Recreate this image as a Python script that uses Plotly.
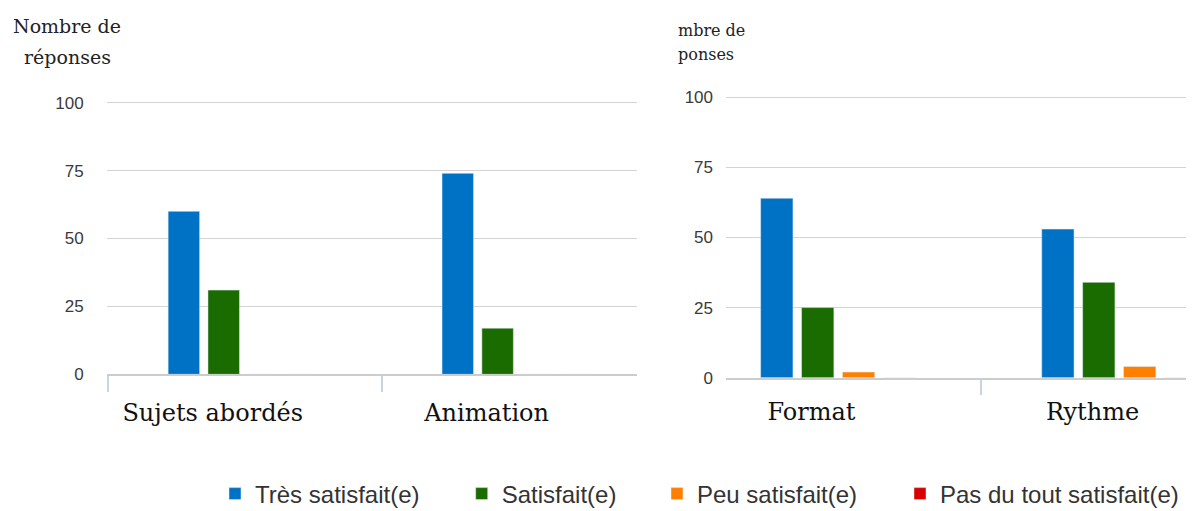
import plotly.graph_objects as go

# ---- data ----
series_names = ["Très satisfait(e)", "Satisfait(e)", "Peu satisfait(e)", "Pas du tout satisfait(e)"]
series_colors = ["#0072C6", "#1A6B00", "#FF8000", "#D90000"]

left_categories = ["Sujets abordés", "Animation"]
left_tres = [60, 74]
left_sat = [31, 17]
left_peu = [0, 0]
left_pas = [0, 0]

right_categories = ["Format", "Rythme"]
right_tres = [64, 53]
right_sat = [25, 34]
right_peu = [2, 4]
right_pas = [0, 0]

y_ticks = [0, 25, 50, 75, 100]
y_title_lines = ["Nombre de", "réponses"]
y_title_right_lines = ["mbre de", "ponses"]

# page offset (default body margin) compensation
OFF = 8
SW, SH = 1194, 511          # screen size
W, H = SW - OFF, SH - OFF   # figure size

def px(xs):
    return (xs - OFF) / W

def py(ys):
    return (SH - ys) / H

SERIF = "DejaVu Serif"
SANS = "Liberation Sans, Arial, sans-serif"

fig = go.Figure()

left_series = [left_tres, left_sat, left_peu, left_pas]
right_series = [right_tres, right_sat, right_peu, right_pas]
legend_ids = ["legend", "legend2", "legend3", "legend4"]

lx = list(range(len(left_categories)))
rx = list(range(len(right_categories)))

for i, (name, col) in enumerate(zip(series_names, series_colors)):
    fig.add_trace(go.Bar(x=lx, y=left_series[i], name=name, marker_color=col,
                         xaxis="x", yaxis="y", legend=legend_ids[i], showlegend=True,
                         hovertemplate="%{y}<extra>" + name + "</extra>"))
for i, (name, col) in enumerate(zip(series_names, series_colors)):
    fig.add_trace(go.Bar(x=rx, y=right_series[i], name=name, marker_color=col,
                         xaxis="x2", yaxis="y2", showlegend=False,
                         hovertemplate="%{y}<extra>" + name + "</extra>"))

grid = "#d4d4d4"
tickcol = "#c6d4e6"

def yaxis(domain, standoff, anchor):
    return dict(domain=domain, range=[0, 102], tickvals=y_ticks, showgrid=True, anchor=anchor,
                gridcolor=grid, gridwidth=1.3, zeroline=False, showline=False, automargin=False,
                ticks="", tickfont=dict(family=SANS, size=17, color="#3a3a3a"),
                ticklabelstandoff=standoff, fixedrange=True)

label_shift_l = 0.113
label_shift_r = 0.095

fig.update_layout(
    width=W, height=H,
    margin=dict(l=0, r=0, t=0, b=0, autoexpand=False),
    paper_bgcolor="white", plot_bgcolor="white",
    barmode="group", bargap=0.418, bargroupgap=0.21,
    xaxis=dict(domain=[px(106.7), px(636.7)], range=[-0.5, 1.435], anchor="y",
               tickvals=[v - label_shift_l for v in lx], ticktext=left_categories,
               ticks="", showgrid=False, zeroline=False, automargin=False,
               showline=True, linecolor="#cccccc", linewidth=1.5,
               tickfont=dict(family=SERIF, size=24, color="#111111"),
               ticklabelstandoff=16,
               minor=dict(tickmode="array", tickvals=[-0.497, 0.505], ticks="outside",
                          ticklen=16, tickwidth=1.5, tickcolor=tickcol, showgrid=False),
               fixedrange=True),
    yaxis=yaxis([py(374.3), py(97.27)], 22, "x"),
    xaxis2=dict(domain=[px(726), 1.0], range=[-0.399, 1.266], anchor="y2",
                tickvals=[v - label_shift_r for v in rx], ticktext=right_categories,
                ticks="", showgrid=False, zeroline=False, automargin=False,
                showline=True, linecolor="#cccccc", linewidth=1.5,
                tickfont=dict(family=SERIF, size=24, color="#111111"),
                ticklabelstandoff=12,
                minor=dict(tickmode="array", tickvals=[0.508], ticks="outside",
                           ticklen=16, tickwidth=1.5, tickcolor=tickcol, showgrid=False),
                fixedrange=True),
    yaxis2=yaxis([py(377.7), py(91.69)], 12, "x2"),
    showlegend=True,
)

legend_x_px = [215, 461.7, 657, 900]
for lid, xp in zip(legend_ids, legend_x_px):
    fig.update_layout({lid: dict(x=px(xp), xanchor="left", y=py(494), yanchor="middle",
                                 orientation="h", bgcolor="rgba(0,0,0,0)",
                                 font=dict(family=SANS, size=24, color="#333333"))})

# y axis titles
title_font_l = dict(family=SERIF, size=19, color="#222222")
title_font_r = dict(family=SERIF, size=16, color="#222222")
fig.add_annotation(text=y_title_lines[0], x=px(67), y=py(26), xref="paper", yref="paper",
                   xanchor="center", yanchor="middle", showarrow=False, font=title_font_l)
fig.add_annotation(text=y_title_lines[1], x=px(67), y=py(57), xref="paper", yref="paper",
                   xanchor="center", yanchor="middle", showarrow=False, font=title_font_l)
fig.add_annotation(text=y_title_right_lines[0], x=px(676), y=py(30), xref="paper", yref="paper",
                   xanchor="left", yanchor="middle", showarrow=False, font=title_font_r)
fig.add_annotation(text=y_title_right_lines[1], x=px(676), y=py(55), xref="paper", yref="paper",
                   xanchor="left", yanchor="middle", showarrow=False, font=title_font_r)

fig.write_html("out.html", config={"displayModeBar": False})
